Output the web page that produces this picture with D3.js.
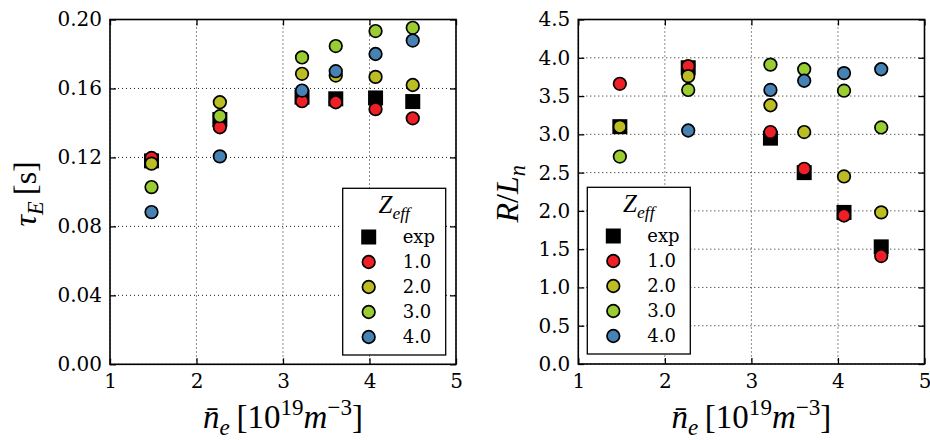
<!DOCTYPE html>
<html>
<head>
<meta charset="utf-8">
<script src="https://cdn.jsdelivr.net/npm/d3@7"></script>
<style>
  body { margin: 0; background: #fff; }
  svg { display: block; }
</style>
</head>
<body>
<svg width="930" height="440"></svg>
<script>
// density values (10^19 m^-3), shared by both panels
const density = [1.48, 2.27, 3.22, 3.61, 4.07, 4.50]

const seriesNames = ['exp', '1.0', '2.0', '3.0', '4.0']
const seriesColors = ['#000000', '#ee1f25', '#bcbd22', '#9acd32', '#4682b4']

// energy confinement time tau_E [s]
const tauExp = [0.118, 0.142, 0.155, 0.154, 0.1545, 0.1524]
const tauZ1 = [0.1197, 0.1375, 0.1526, 0.152, 0.148, 0.1427]
const tauZ2 = [0.1164, 0.152, 0.1685, 0.1675, 0.1667, 0.162]
const tauZ3 = [0.1028, 0.1439, 0.178, 0.1846, 0.1933, 0.1952]
const tauZ4 = [0.0883, 0.1206, 0.1588, 0.170, 0.180, 0.1878]

// density gradient R/L_n
const rlnExp = [3.10, 3.87, 2.95, 2.50, 1.98, 1.53]
const rlnZ1 = [3.66, 3.89, 3.03, 2.55, 1.94, 1.41]
const rlnZ2 = [3.10, 3.76, 3.38, 3.03, 2.45, 1.98]
const rlnZ3 = [2.71, 3.58, 3.91, 3.85, 3.57, 3.09]
const rlnZ4 = [null, 3.05, 3.58, 3.70, 3.80, 3.85]

const xTicks = [1, 2, 3, 4, 5]
const tauTicks = [0, 0.04, 0.08, 0.12, 0.16, 0.20]
const rlnTicks = [0, 0.5, 1, 1.5, 2, 2.5, 3, 3.5, 4, 4.5]

const tickFont = 'DejaVu Serif'
const mathFont = 'Liberation Serif'

const svg = d3.select('svg')

function subSup(text, parts, size) {
  // parts: [str, kind, italic]; kind '' | 'sub' | 'sup'
  let shift = 0
  parts.forEach(([s, kind, it]) => {
    let target = kind === 'sub' ? size * 0.22 : kind === 'sup' ? -size * 0.38 : 0
    text.append('tspan')
      .attr('dy', target - shift)
      .attr('font-size', kind ? size * 0.7 : size)
      .attr('font-style', it ? 'italic' : 'normal')
      .text(s)
    shift = target
  })
}

function panel(opts) {
  const x = d3.scaleLinear().domain([1, 5]).range([opts.left, opts.right])
  const y = d3.scaleLinear().domain(opts.yDomain).range([opts.bottom, opts.top])
  const g = svg.append('g')

  // dotted grid
  const grid = g.append('g').attr('stroke', '#000').attr('stroke-width', 0.9).attr('stroke-dasharray', '1,3')
  grid.selectAll('line.gx').data(xTicks).enter().append('line')
    .attr('x1', d => x(d)).attr('x2', d => x(d))
    .attr('y1', opts.top).attr('y2', opts.bottom)
  grid.selectAll('line.gy').data(opts.yTicks).enter().append('line')
    .attr('x1', opts.left).attr('x2', opts.right)
    .attr('y1', d => y(d)).attr('y2', d => y(d))

  const axes = [
    [d3.axisBottom(x).tickValues(xTicks).tickFormat(d3.format('d')).tickSize(-6).tickPadding(10), `translate(0,${opts.bottom})`],
    [d3.axisTop(x).tickValues(xTicks).tickFormat('').tickSize(-6), `translate(0,${opts.top})`],
    [d3.axisLeft(y).tickValues(opts.yTicks).tickFormat(d3.format(opts.yFormat)).tickSize(-6).tickPadding(8), `translate(${opts.left},0)`],
    [d3.axisRight(y).tickValues(opts.yTicks).tickFormat('').tickSize(-6), `translate(${opts.right},0)`]
  ]
  axes.forEach(([ax, tr]) => {
    const a = g.append('g').attr('transform', tr).call(ax)
    a.select('.domain').remove()
    a.selectAll('line').attr('stroke', '#000').attr('stroke-width', 1.3)
    a.selectAll('text').attr('fill', '#000').attr('font-family', tickFont).attr('font-size', 20)
  })

  g.append('rect')
    .attr('x', opts.left).attr('y', opts.top)
    .attr('width', opts.right - opts.left).attr('height', opts.bottom - opts.top)
    .attr('fill', 'none').attr('stroke', '#000').attr('stroke-width', 1.6)

  // points: exp squares first, then Zeff circles in order
  opts.series.forEach((vals, si) => {
    const pts = density.map((d, i) => ({ x: d, y: vals[i] })).filter(p => p.y !== null)
    if (si === 0) {
      g.selectAll(null).data(pts).enter().append('rect')
        .attr('x', p => x(p.x) - 7.5).attr('y', p => y(p.y) - 7.5)
        .attr('width', 15).attr('height', 15)
        .attr('fill', '#000')
    } else {
      g.selectAll(null).data(pts).enter().append('circle')
        .attr('cx', p => x(p.x)).attr('cy', p => y(p.y))
        .attr('r', 6.3)
        .attr('fill', seriesColors[si]).attr('stroke', '#000').attr('stroke-width', 1.7)
    }
  })

  // legend
  const lg = g.append('g').attr('transform', `translate(${opts.legendX},${opts.legendY})`)
  lg.append('rect').attr('width', 103).attr('height', 166.7)
    .attr('fill', '#fff').attr('stroke', '#000').attr('stroke-width', 1.3)
  const title = lg.append('text').attr('x', 51.5).attr('y', 25)
    .attr('text-anchor', 'middle').attr('font-family', mathFont).attr('fill', '#000')
  subSup(title, [['Z', '', true], ['eff', 'sub', true]], 25)
  seriesNames.forEach((name, i) => {
    const ry = 48.7 + i * 25
    if (i === 0) {
      lg.append('rect').attr('x', 26 - 7.5).attr('y', ry - 7.5).attr('width', 15).attr('height', 15).attr('fill', '#000')
    } else {
      lg.append('circle').attr('cx', 26).attr('cy', ry).attr('r', 6.3)
        .attr('fill', seriesColors[i]).attr('stroke', '#000').attr('stroke-width', 1.7)
    }
    lg.append('text').attr('x', 60).attr('y', ry + 6.3)
      .attr('font-family', tickFont).attr('font-size', 18).attr('fill', '#000')
      .text(name)
  })

  // x label
  const xl = g.append('text')
    .attr('x', (opts.left + opts.right) / 2).attr('y', 428)
    .attr('text-anchor', 'middle').attr('font-family', mathFont).attr('fill', '#000')
  subSup(xl, [['n\u0304', '', true], ['e', 'sub', true], ['\u2009[10', '', false], ['19', 'sup', false], ['m', '', true], ['\u22123', 'sup', false], [']', '', false]], 33)

  // y label
  const yl = g.append('text')
    .attr('transform', `translate(${opts.ylabelX},${(opts.top + opts.bottom) / 2 + 2}) rotate(-90)`)
    .attr('text-anchor', 'middle').attr('font-family', mathFont).attr('fill', '#000')
  subSup(yl, opts.ylabel, 32)
}

panel({
  left: 110, right: 456, top: 19.5, bottom: 364.3,
  yDomain: [0, 0.2], yTicks: tauTicks, yFormat: '.2f',
  series: [tauExp, tauZ1, tauZ2, tauZ3, tauZ4],
  legendX: 342.7, legendY: 188.3,
  ylabelX: 36,
  ylabel: [['\u03c4', '', true], ['E', 'sub', true], ['\u2009[s]', '', false]]
})

panel({
  left: 578.3, right: 924.5, top: 19.5, bottom: 364,
  yDomain: [0, 4.5], yTicks: rlnTicks, yFormat: '.1f',
  series: [rlnExp, rlnZ1, rlnZ2, rlnZ3, rlnZ4],
  legendX: 587.3, legendY: 187.3,
  ylabelX: 518,
  ylabel: [['R', '', true], ['/', '', false], ['L', '', true], ['n', 'sub', true]]
})
</script>
</body>
</html>
